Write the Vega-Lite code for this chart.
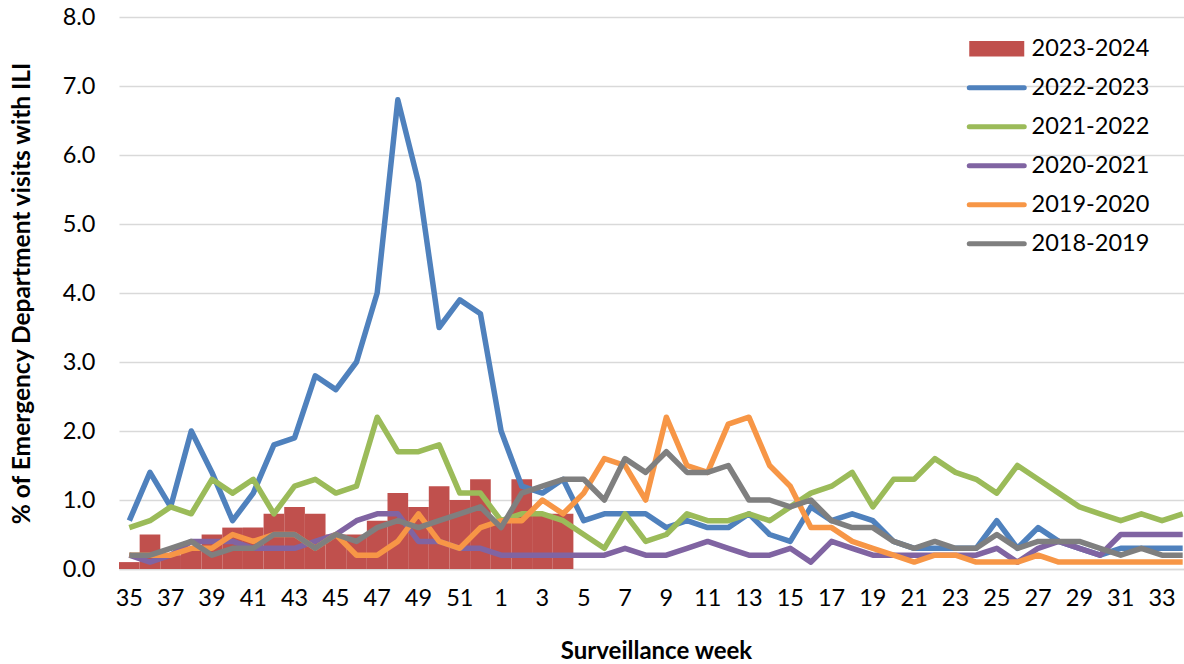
{
  "$schema": "https://vega.github.io/schema/vega-lite/v6.json",
  "width": 1065,
  "height": 552,
  "autosize": {"type": "none"},
  "padding": {"left": 119, "top": 17, "right": 0, "bottom": 95},
  "background": "white",
  "config": {"view": {"stroke": null}, "font": "Lato"},
  "datasets": {
    "bars": [
      {"w":"35","s":"2023-2024","v":0.1},{"w":"36","s":"2023-2024","v":0.5},{"w":"37","s":"2023-2024","v":0.2},{"w":"38","s":"2023-2024","v":0.3},
      {"w":"39","s":"2023-2024","v":0.5},{"w":"40","s":"2023-2024","v":0.6},{"w":"41","s":"2023-2024","v":0.6},{"w":"42","s":"2023-2024","v":0.8},
      {"w":"43","s":"2023-2024","v":0.9},{"w":"44","s":"2023-2024","v":0.8},{"w":"45","s":"2023-2024","v":0.5},{"w":"46","s":"2023-2024","v":0.5},
      {"w":"47","s":"2023-2024","v":0.7},{"w":"48","s":"2023-2024","v":1.1},{"w":"49","s":"2023-2024","v":0.9},{"w":"50","s":"2023-2024","v":1.2},
      {"w":"51","s":"2023-2024","v":1.0},{"w":"52","s":"2023-2024","v":1.3},{"w":"1","s":"2023-2024","v":0.7},{"w":"2","s":"2023-2024","v":1.3},
      {"w":"3","s":"2023-2024","v":0.8},{"w":"4","s":"2023-2024","v":0.8}
    ],
    "lines": [
      {"w":"35","s":"2022-2023","v":0.7},{"w":"36","s":"2022-2023","v":1.4},{"w":"37","s":"2022-2023","v":0.9},{"w":"38","s":"2022-2023","v":2.0},
      {"w":"39","s":"2022-2023","v":1.4},{"w":"40","s":"2022-2023","v":0.7},{"w":"41","s":"2022-2023","v":1.1},{"w":"42","s":"2022-2023","v":1.8},
      {"w":"43","s":"2022-2023","v":1.9},{"w":"44","s":"2022-2023","v":2.8},{"w":"45","s":"2022-2023","v":2.6},{"w":"46","s":"2022-2023","v":3.0},
      {"w":"47","s":"2022-2023","v":4.0},{"w":"48","s":"2022-2023","v":6.8},{"w":"49","s":"2022-2023","v":5.6},{"w":"50","s":"2022-2023","v":3.5},
      {"w":"51","s":"2022-2023","v":3.9},{"w":"52","s":"2022-2023","v":3.7},{"w":"1","s":"2022-2023","v":2.0},{"w":"2","s":"2022-2023","v":1.2},
      {"w":"3","s":"2022-2023","v":1.1},{"w":"4","s":"2022-2023","v":1.3},{"w":"5","s":"2022-2023","v":0.7},{"w":"6","s":"2022-2023","v":0.8},
      {"w":"7","s":"2022-2023","v":0.8},{"w":"8","s":"2022-2023","v":0.8},{"w":"9","s":"2022-2023","v":0.6},{"w":"10","s":"2022-2023","v":0.7},
      {"w":"11","s":"2022-2023","v":0.6},{"w":"12","s":"2022-2023","v":0.6},{"w":"13","s":"2022-2023","v":0.8},{"w":"14","s":"2022-2023","v":0.5},
      {"w":"15","s":"2022-2023","v":0.4},{"w":"16","s":"2022-2023","v":0.9},{"w":"17","s":"2022-2023","v":0.7},{"w":"18","s":"2022-2023","v":0.8},
      {"w":"19","s":"2022-2023","v":0.7},{"w":"20","s":"2022-2023","v":0.4},{"w":"21","s":"2022-2023","v":0.3},{"w":"22","s":"2022-2023","v":0.3},
      {"w":"23","s":"2022-2023","v":0.3},{"w":"24","s":"2022-2023","v":0.3},{"w":"25","s":"2022-2023","v":0.7},{"w":"26","s":"2022-2023","v":0.3},
      {"w":"27","s":"2022-2023","v":0.6},{"w":"28","s":"2022-2023","v":0.4},{"w":"29","s":"2022-2023","v":0.3},{"w":"30","s":"2022-2023","v":0.2},
      {"w":"31","s":"2022-2023","v":0.3},{"w":"32","s":"2022-2023","v":0.3},{"w":"33","s":"2022-2023","v":0.3},{"w":"34","s":"2022-2023","v":0.3},

      {"w":"35","s":"2021-2022","v":0.6},{"w":"36","s":"2021-2022","v":0.7},{"w":"37","s":"2021-2022","v":0.9},{"w":"38","s":"2021-2022","v":0.8},
      {"w":"39","s":"2021-2022","v":1.3},{"w":"40","s":"2021-2022","v":1.1},{"w":"41","s":"2021-2022","v":1.3},{"w":"42","s":"2021-2022","v":0.8},
      {"w":"43","s":"2021-2022","v":1.2},{"w":"44","s":"2021-2022","v":1.3},{"w":"45","s":"2021-2022","v":1.1},{"w":"46","s":"2021-2022","v":1.2},
      {"w":"47","s":"2021-2022","v":2.2},{"w":"48","s":"2021-2022","v":1.7},{"w":"49","s":"2021-2022","v":1.7},{"w":"50","s":"2021-2022","v":1.8},
      {"w":"51","s":"2021-2022","v":1.1},{"w":"52","s":"2021-2022","v":1.1},{"w":"1","s":"2021-2022","v":0.7},{"w":"2","s":"2021-2022","v":0.8},
      {"w":"3","s":"2021-2022","v":0.8},{"w":"4","s":"2021-2022","v":0.7},{"w":"5","s":"2021-2022","v":0.5},{"w":"6","s":"2021-2022","v":0.3},
      {"w":"7","s":"2021-2022","v":0.8},{"w":"8","s":"2021-2022","v":0.4},{"w":"9","s":"2021-2022","v":0.5},{"w":"10","s":"2021-2022","v":0.8},
      {"w":"11","s":"2021-2022","v":0.7},{"w":"12","s":"2021-2022","v":0.7},{"w":"13","s":"2021-2022","v":0.8},{"w":"14","s":"2021-2022","v":0.7},
      {"w":"15","s":"2021-2022","v":0.9},{"w":"16","s":"2021-2022","v":1.1},{"w":"17","s":"2021-2022","v":1.2},{"w":"18","s":"2021-2022","v":1.4},
      {"w":"19","s":"2021-2022","v":0.9},{"w":"20","s":"2021-2022","v":1.3},{"w":"21","s":"2021-2022","v":1.3},{"w":"22","s":"2021-2022","v":1.6},
      {"w":"23","s":"2021-2022","v":1.4},{"w":"24","s":"2021-2022","v":1.3},{"w":"25","s":"2021-2022","v":1.1},{"w":"26","s":"2021-2022","v":1.5},
      {"w":"27","s":"2021-2022","v":1.3},{"w":"28","s":"2021-2022","v":1.1},{"w":"29","s":"2021-2022","v":0.9},{"w":"30","s":"2021-2022","v":0.8},
      {"w":"31","s":"2021-2022","v":0.7},{"w":"32","s":"2021-2022","v":0.8},{"w":"33","s":"2021-2022","v":0.7},{"w":"34","s":"2021-2022","v":0.8},

      {"w":"35","s":"2020-2021","v":0.2},{"w":"36","s":"2020-2021","v":0.1},{"w":"37","s":"2020-2021","v":0.2},{"w":"38","s":"2020-2021","v":0.4},
      {"w":"39","s":"2020-2021","v":0.4},{"w":"40","s":"2020-2021","v":0.4},{"w":"41","s":"2020-2021","v":0.3},{"w":"42","s":"2020-2021","v":0.3},
      {"w":"43","s":"2020-2021","v":0.3},{"w":"44","s":"2020-2021","v":0.4},{"w":"45","s":"2020-2021","v":0.5},{"w":"46","s":"2020-2021","v":0.7},
      {"w":"47","s":"2020-2021","v":0.8},{"w":"48","s":"2020-2021","v":0.8},{"w":"49","s":"2020-2021","v":0.4},{"w":"50","s":"2020-2021","v":0.4},
      {"w":"51","s":"2020-2021","v":0.3},{"w":"52","s":"2020-2021","v":0.3},{"w":"1","s":"2020-2021","v":0.2},{"w":"2","s":"2020-2021","v":0.2},
      {"w":"3","s":"2020-2021","v":0.2},{"w":"4","s":"2020-2021","v":0.2},{"w":"5","s":"2020-2021","v":0.2},{"w":"6","s":"2020-2021","v":0.2},
      {"w":"7","s":"2020-2021","v":0.3},{"w":"8","s":"2020-2021","v":0.2},{"w":"9","s":"2020-2021","v":0.2},{"w":"10","s":"2020-2021","v":0.3},
      {"w":"11","s":"2020-2021","v":0.4},{"w":"12","s":"2020-2021","v":0.3},{"w":"13","s":"2020-2021","v":0.2},{"w":"14","s":"2020-2021","v":0.2},
      {"w":"15","s":"2020-2021","v":0.3},{"w":"16","s":"2020-2021","v":0.1},{"w":"17","s":"2020-2021","v":0.4},{"w":"18","s":"2020-2021","v":0.3},
      {"w":"19","s":"2020-2021","v":0.2},{"w":"20","s":"2020-2021","v":0.2},{"w":"21","s":"2020-2021","v":0.2},{"w":"22","s":"2020-2021","v":0.2},
      {"w":"23","s":"2020-2021","v":0.2},{"w":"24","s":"2020-2021","v":0.2},{"w":"25","s":"2020-2021","v":0.3},{"w":"26","s":"2020-2021","v":0.1},
      {"w":"27","s":"2020-2021","v":0.3},{"w":"28","s":"2020-2021","v":0.4},{"w":"29","s":"2020-2021","v":0.3},{"w":"30","s":"2020-2021","v":0.2},
      {"w":"31","s":"2020-2021","v":0.5},{"w":"32","s":"2020-2021","v":0.5},{"w":"33","s":"2020-2021","v":0.5},{"w":"34","s":"2020-2021","v":0.5},

      {"w":"35","s":"2019-2020","v":0.2},{"w":"36","s":"2019-2020","v":0.2},{"w":"37","s":"2019-2020","v":0.2},{"w":"38","s":"2019-2020","v":0.3},
      {"w":"39","s":"2019-2020","v":0.3},{"w":"40","s":"2019-2020","v":0.5},{"w":"41","s":"2019-2020","v":0.4},{"w":"42","s":"2019-2020","v":0.5},
      {"w":"43","s":"2019-2020","v":0.5},{"w":"44","s":"2019-2020","v":0.3},{"w":"45","s":"2019-2020","v":0.5},{"w":"46","s":"2019-2020","v":0.2},
      {"w":"47","s":"2019-2020","v":0.2},{"w":"48","s":"2019-2020","v":0.4},{"w":"49","s":"2019-2020","v":0.8},{"w":"50","s":"2019-2020","v":0.4},
      {"w":"51","s":"2019-2020","v":0.3},{"w":"52","s":"2019-2020","v":0.6},{"w":"1","s":"2019-2020","v":0.7},{"w":"2","s":"2019-2020","v":0.7},
      {"w":"3","s":"2019-2020","v":1.0},{"w":"4","s":"2019-2020","v":0.8},{"w":"5","s":"2019-2020","v":1.1},{"w":"6","s":"2019-2020","v":1.6},
      {"w":"7","s":"2019-2020","v":1.5},{"w":"8","s":"2019-2020","v":1.0},{"w":"9","s":"2019-2020","v":2.2},{"w":"10","s":"2019-2020","v":1.5},
      {"w":"11","s":"2019-2020","v":1.4},{"w":"12","s":"2019-2020","v":2.1},{"w":"13","s":"2019-2020","v":2.2},{"w":"14","s":"2019-2020","v":1.5},
      {"w":"15","s":"2019-2020","v":1.2},{"w":"16","s":"2019-2020","v":0.6},{"w":"17","s":"2019-2020","v":0.6},{"w":"18","s":"2019-2020","v":0.4},
      {"w":"19","s":"2019-2020","v":0.3},{"w":"20","s":"2019-2020","v":0.2},{"w":"21","s":"2019-2020","v":0.1},{"w":"22","s":"2019-2020","v":0.2},
      {"w":"23","s":"2019-2020","v":0.2},{"w":"24","s":"2019-2020","v":0.1},{"w":"25","s":"2019-2020","v":0.1},{"w":"26","s":"2019-2020","v":0.1},
      {"w":"27","s":"2019-2020","v":0.2},{"w":"28","s":"2019-2020","v":0.1},{"w":"29","s":"2019-2020","v":0.1},{"w":"30","s":"2019-2020","v":0.1},
      {"w":"31","s":"2019-2020","v":0.1},{"w":"32","s":"2019-2020","v":0.1},{"w":"33","s":"2019-2020","v":0.1},{"w":"34","s":"2019-2020","v":0.1},

      {"w":"35","s":"2018-2019","v":0.2},{"w":"36","s":"2018-2019","v":0.2},{"w":"37","s":"2018-2019","v":0.3},{"w":"38","s":"2018-2019","v":0.4},
      {"w":"39","s":"2018-2019","v":0.2},{"w":"40","s":"2018-2019","v":0.3},{"w":"41","s":"2018-2019","v":0.3},{"w":"42","s":"2018-2019","v":0.5},
      {"w":"43","s":"2018-2019","v":0.5},{"w":"44","s":"2018-2019","v":0.3},{"w":"45","s":"2018-2019","v":0.5},{"w":"46","s":"2018-2019","v":0.4},
      {"w":"47","s":"2018-2019","v":0.6},{"w":"48","s":"2018-2019","v":0.7},{"w":"49","s":"2018-2019","v":0.6},{"w":"50","s":"2018-2019","v":0.7},
      {"w":"51","s":"2018-2019","v":0.8},{"w":"52","s":"2018-2019","v":0.9},{"w":"1","s":"2018-2019","v":0.6},{"w":"2","s":"2018-2019","v":1.1},
      {"w":"3","s":"2018-2019","v":1.2},{"w":"4","s":"2018-2019","v":1.3},{"w":"5","s":"2018-2019","v":1.3},{"w":"6","s":"2018-2019","v":1.0},
      {"w":"7","s":"2018-2019","v":1.6},{"w":"8","s":"2018-2019","v":1.4},{"w":"9","s":"2018-2019","v":1.7},{"w":"10","s":"2018-2019","v":1.4},
      {"w":"11","s":"2018-2019","v":1.4},{"w":"12","s":"2018-2019","v":1.5},{"w":"13","s":"2018-2019","v":1.0},{"w":"14","s":"2018-2019","v":1.0},
      {"w":"15","s":"2018-2019","v":0.9},{"w":"16","s":"2018-2019","v":1.0},{"w":"17","s":"2018-2019","v":0.7},{"w":"18","s":"2018-2019","v":0.6},
      {"w":"19","s":"2018-2019","v":0.6},{"w":"20","s":"2018-2019","v":0.4},{"w":"21","s":"2018-2019","v":0.3},{"w":"22","s":"2018-2019","v":0.4},
      {"w":"23","s":"2018-2019","v":0.3},{"w":"24","s":"2018-2019","v":0.3},{"w":"25","s":"2018-2019","v":0.5},{"w":"26","s":"2018-2019","v":0.3},
      {"w":"27","s":"2018-2019","v":0.4},{"w":"28","s":"2018-2019","v":0.4},{"w":"29","s":"2018-2019","v":0.4},{"w":"30","s":"2018-2019","v":0.3},
      {"w":"31","s":"2018-2019","v":0.2},{"w":"32","s":"2018-2019","v":0.3},{"w":"33","s":"2018-2019","v":0.2},{"w":"34","s":"2018-2019","v":0.2}
    ]
  },
  "encoding": {
    "x": {
      "field": "w", "type": "ordinal",
      "sort": ["35","36","37","38","39","40","41","42","43","44","45","46","47","48","49","50","51","52","1","2","3","4","5","6","7","8","9","10","11","12","13","14","15","16","17","18","19","20","21","22","23","24","25","26","27","28","29","30","31","32","33","34"],
      "scale": {"paddingInner": 0, "paddingOuter": 0, "range": [0, 1074]},
      "axis": {
        "values": ["35","37","39","41","43","45","47","49","51","1","3","5","7","9","11","13","15","17","19","21","23","25","27","29","31","33"],
        "labelAngle": 0, "ticks": false, "grid": false,
        "domain": true, "domainColor": "#D9D9D9", "domainWidth": 1.5,
        "labelFontSize": 23.5, "labelColor": "#000000", "labelPadding": 17,
        "title": "Surveillance week", "titleFontSize": 24, "titleFontWeight": "bold", "titleColor": "#000000", "titlePadding": 30
      }
    },
    "y": {
      "field": "v", "type": "quantitative",
      "scale": {"domain": [0, 8], "nice": false, "zero": true},
      "axis": {
        "values": [0,1,2,3,4,5,6,7,8], "format": ".1f",
        "grid": true, "gridColor": "#D9D9D9", "gridWidth": 1.5,
        "domain": false, "ticks": false,
        "labelFontSize": 23.5, "labelColor": "#000000", "labelPadding": 24,
        "title": "% of Emergency Department  visits with ILI",
        "titleFontSize": 24.5, "titleFontWeight": "bold", "titleColor": "#000000", "titlePadding": 28
      }
    },
    "color": {
      "field": "s", "type": "nominal",
      "scale": {
        "domain": ["2023-2024","2022-2023","2021-2022","2020-2021","2019-2020","2018-2019"],
        "range": ["#C0504D","#4F81BD","#9BBB59","#8064A2","#F79646","#7F7F7F"]
      },
      "legend": {
        "title": null, "orient": "none", "legendX": 866, "legendY": 20,
        "labelFontSize": 23.5, "labelColor": "#000000", "labelFont": "Lato", "labelOffset": 23,
        "symbolType": "stroke", "symbolSize": 3025, "symbolStrokeWidth": 5,
        "rowPadding": 14, "padding": 0,
        "encode": {
          "symbols": {
            "update": {
              "shape": {"signal": "datum.label === '2023-2024' ? 'M-1,-0.28H1V0.28H-1Z' : 'stroke'"},
              "fill": {"signal": "datum.label === '2023-2024' ? scale('color', datum.value) : 'transparent'"},
              "stroke": {"signal": "scale('color', datum.value)"},
              "strokeWidth": {"signal": "datum.label === '2023-2024' ? 0 : 5"},
              "strokeCap": {"value": "round"},
              "opacity": {"value": 1}
            }
          }
        }
      }
    }
  },
  "layer": [
    {"data": {"name": "bars"}, "mark": {"type": "bar"}},
    {"data": {"name": "lines"}, "mark": {"type": "line", "strokeWidth": 5.5, "strokeJoin": "round", "strokeCap": "butt"}}
  ]
}
